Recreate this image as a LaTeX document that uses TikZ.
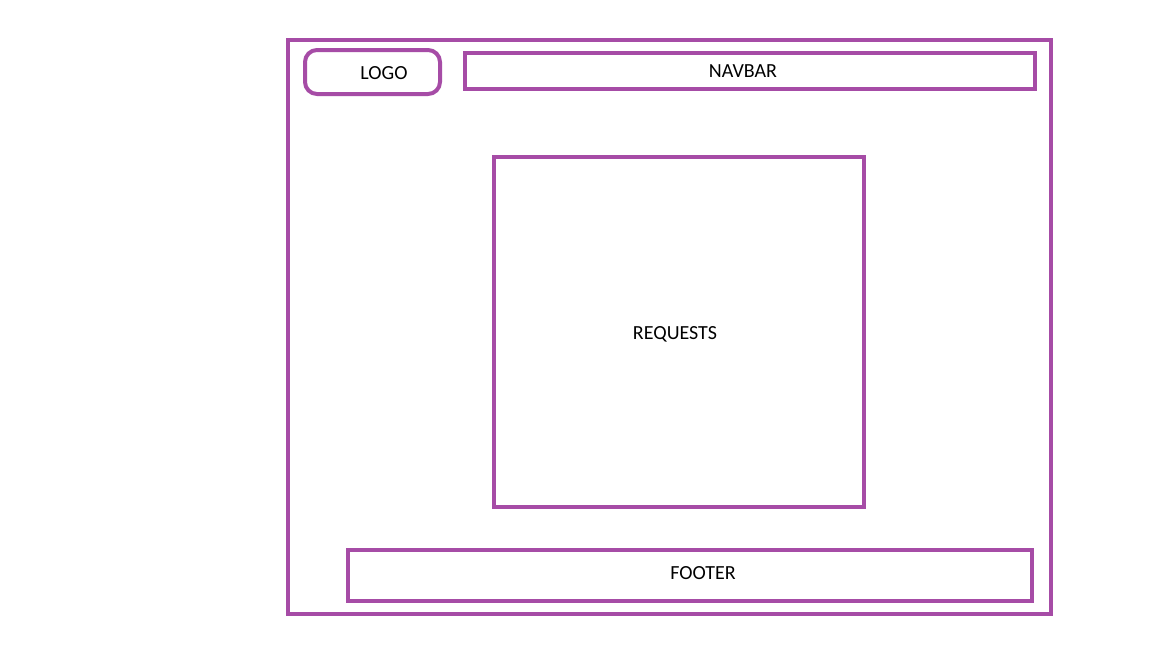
\documentclass[tikz,border=0pt]{standalone}
\usepackage{fontspec}
\setmainfont{Carlito}
\definecolor{wire}{HTML}{A64CA6}
\begin{document}
\begin{tikzpicture}[x=1pt,y=-1pt,
  frame/.style={draw=wire,line width=4pt,inner sep=0pt},
  lbl/.style={font=\fontsize{20}{24}\selectfont,inner sep=0pt}]
\useasboundingbox[fill=white] (0,0) rectangle (1152,648);
\node[frame,minimum width=763pt,minimum height=574pt] (page) at (669.5,327) {};
\node[frame,rounded corners=12pt,minimum width=135pt,minimum height=44pt] (logo) at (372.5,72) {};
\node[frame,minimum width=570pt,minimum height=36pt] (navbar) at (750,71) {};
\node[frame,minimum width=370pt,minimum height=350pt] (requests) at (679,332) {};
\node[frame,minimum width=684pt,minimum height=51pt] (footer) at (690,575.5) {};
\node[lbl] (logotxt) at (384,73) {LOGO};
\node[lbl] (navtxt) at (743,71) {NAVBAR};
\node[lbl] (reqtxt) at (675,334) {REQUESTS};
\node[lbl] (foottxt) at (703,573) {FOOTER};
\end{tikzpicture}
\end{document}
